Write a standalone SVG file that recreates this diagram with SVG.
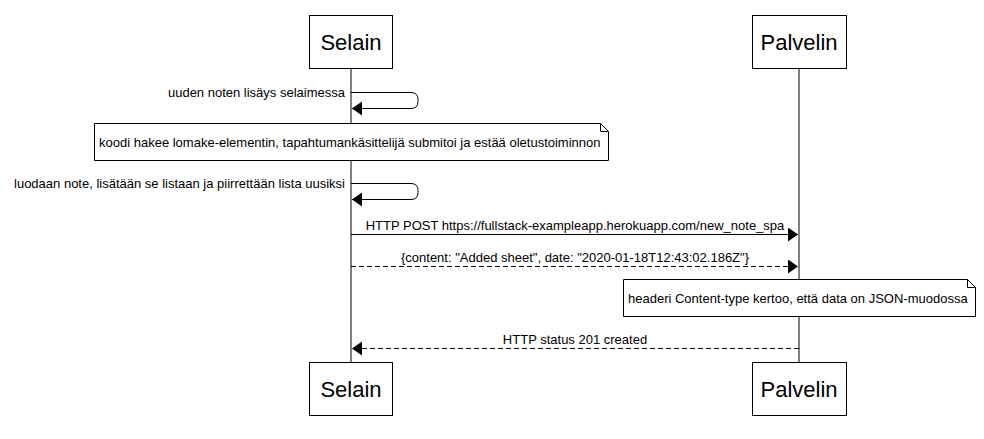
<svg xmlns="http://www.w3.org/2000/svg" width="984" height="439" viewBox="0 0 984 439">
<style>
.actor rect{fill:#fff;stroke:#000;stroke-width:1}
.actor text{font-family:"Liberation Sans",Arial,sans-serif;font-size:22px;text-anchor:middle;fill:#000}
.life{stroke:#000;stroke-width:1}
.msg{stroke:#000;stroke-width:1;fill:none}
.dash{stroke-dasharray:5,3}
.lbl{font-family:"Liberation Sans",Arial,sans-serif;font-size:13px;fill:#000}
.note path{fill:#fff;stroke:#000;stroke-width:1}
</style>
<defs>
<marker id="ah" markerWidth="12" markerHeight="16" refX="10" refY="7" orient="auto" markerUnits="userSpaceOnUse">
<path d="M0,0 L10,7 L0,14 Z" fill="#000"/>
</marker>
</defs>
<rect width="984" height="439" fill="#fff"/>
<g id="lifelines">
<line class="life" x1="351" y1="68" x2="351" y2="362"/>
<line class="life" x1="799" y1="68" x2="799" y2="362"/>
</g>
<g id="selain-top" class="actor"><rect x="309.500" y="15.500" width="83" height="53"/><text x="351" y="50">Selain</text></g>
<g id="palvelin-top" class="actor"><rect x="752.500" y="15.500" width="94" height="53"/><text x="799" y="50">Palvelin</text></g>
<g id="selain-bottom" class="actor"><rect x="309.500" y="362.500" width="83" height="53"/><text x="351" y="397">Selain</text></g>
<g id="palvelin-bottom" class="actor"><rect x="752.500" y="362.500" width="94" height="53"/><text x="799" y="397">Palvelin</text></g>
<g id="note1" class="note"><path d="M94.500,123.500 H600.500 L608.500,131.500 V160.500 H94.500 Z M600.500,123.500 V131.500 H608.500"/><text class="lbl" x="99" y="147">koodi hakee lomake-elementin, tapahtumankäsittelijä submitoi ja estää oletustoiminnon</text></g>
<g id="note2" class="note"><path d="M623.500,279.500 H967.500 L975.500,287.500 V316.500 H623.500 Z M967.500,279.500 V287.500 H975.500"/><text class="lbl" x="628" y="303">headeri Content-type kertoo, että data on JSON-muodossa</text></g>
<g id="connectors">
<path class="msg" d="M351,92.500 H411 Q418,92.500 418,99.500 V101.500 Q418,108.500 411,108.500 H352" marker-end="url(#ah)"/>
<text class="lbl" x="345" y="97" text-anchor="end">uuden noten lisäys selaimessa</text>
<path class="msg" d="M351,183.500 H411 Q418,183.500 418,190.500 V192.500 Q418,199.500 411,199.500 H352" marker-end="url(#ah)"/>
<text class="lbl" x="345" y="188" text-anchor="end">luodaan note, lisätään se listaan ja piirrettään lista uusiksi</text>
<line class="msg" x1="351" y1="234.500" x2="798" y2="234.500" marker-end="url(#ah)"/>
<text class="lbl" x="575" y="230" text-anchor="middle">HTTP POST https://fullstack-exampleapp.herokuapp.com/new_note_spa</text>
<line class="msg dash" x1="351" y1="266.500" x2="798" y2="266.500" marker-end="url(#ah)"/>
<text class="lbl" x="575" y="262" text-anchor="middle">{content: "Added sheet", date: "2020-01-18T12:43:02.186Z"}</text>
<line class="msg dash" x1="799" y1="348.500" x2="352" y2="348.500" marker-end="url(#ah)"/>
<text class="lbl" x="575" y="344" text-anchor="middle">HTTP status 201 created</text>
</g>
</svg>
